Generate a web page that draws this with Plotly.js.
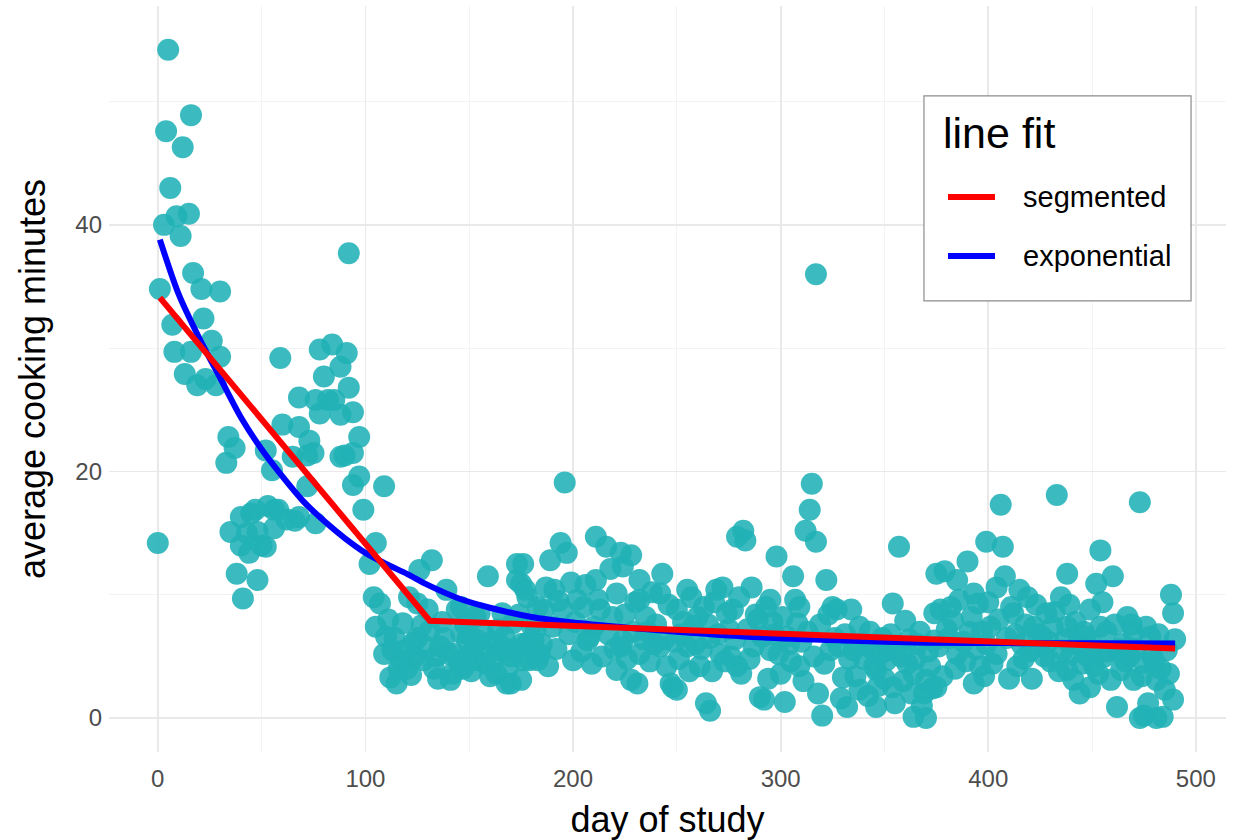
<!DOCTYPE html>
<html>
<head>
<meta charset="utf-8">
<script src="https://cdn.plot.ly/plotly-3.0.1.min.js"></script>
<style>
  html, body { margin: 0; padding: 0; background: #ffffff; }
  #chart { width: 1233px; height: 840px; }
</style>
</head>
<body>
<div id="chart"></div>
<script>
// ---- observed data: day of study and average cooking minutes ----
const dayOfStudy = [
  0,1,3,4,5,6,7,8,9,11,12,13,15,16,16,17,19,21,22,23,26,28,30,30,
  33,34,35,37,38,40,40,41,43,44,45,47,48,48,50,52,52,53,55,56,56,58,59,60,
  62,65,66,68,68,68,72,72,73,75,76,76,78,78,80,82,84,85,88,88,88,90,91,92,92,94,94,94,97,97,99,
  102,104,105,105,107,109,109,110,112,113,115,117,118,120,121,123,124,125,125,126,128,130,131,132,133,134,136,138,139,
  141,142,143,144,146,146,147,149,149,150,152,154,154,155,156,158,159,161,162,163,165,166,166,167,168,170,170,171,
  173,173,175,175,175,176,176,177,178,178,179,180,181,183,183,184,186,187,189,191,194,195,196,197,
  200,202,207,208,211,211,213,216,218,221,221,223,223,224,224,228,228,231,232,232,232,236,239,
  242,242,243,245,247,248,250,250,252,255,255,258,261,263,264,266,266,269,271,272,274,276,277,279,279,
  281,282,283,284,286,287,289,290,292,293,295,295,297,298,300,302,304,306,308,309,309,
  312,313,314,315,317,317,318,320,322,324,325,326,327,330,332,335,338,338,341,345,346,346,349,
  351,352,354,354,357,358,360,361,364,364,366,369,370,370,372,374,374,375,375,377,379,381,382,383,385,385,
  390,391,393,393,395,396,399,399,401,404,404,406,407,408,409,411,412,414,416,419,
  422,424,425,427,428,429,431,433,435,436,438,438,438,441,443,444,446,448,449,449,
  451,452,454,454,456,457,459,460,462,464,465,467,468,470,470,473,473,475,475,477,478,479,
  481,481,483,484,485,486,488,489,489
];
const cookingMinutes = [
  14.2,34.8,40.0,47.6,54.2,43.0,31.9,29.7,40.7,39.1,46.3,27.9,40.9,48.9,29.7,36.1,27.0,34.8,32.4,27.5,30.6,27.0,34.6,29.3,
  20.7,22.8,15.1,21.9,11.7,16.3,14.0,9.7,15.0,13.4,16.6,16.9,11.2,15.1,14.0,13.9,21.7,17.2,20.1,16.9,15.4,16.9,29.2,23.8,
  16.1,21.2,16.0,26.0,23.6,16.3,18.8,21.3,22.5,21.5,25.8,15.8,29.9,24.7,27.7,25.8,30.3,25.8,28.5,24.6,21.2,21.3,29.6,37.7,26.8,24.8,21.5,18.9,22.8,19.6,16.9,
  12.5,9.8,14.2,7.4,9.3,18.8,5.2,6.6,3.3,5.5,2.8,4.7,7.7,4.0,9.8,6.1,5.0,9.3,6.5,12.0,4.7,8.8,7.1,12.8,4.0,5.0,5.8,6.5,10.4,
  3.1,3.6,5.2,8.8,6.9,9.0,4.0,5.0,6.3,6.8,5.5,6.3,4.7,8.5,5.8,4.4,11.5,6.2,4.8,3.6,5.5,8.5,5.8,6.6,2.8,2.8,5.0,7.7,
  12.5,11.2,10.9,3.1,6.0,4.7,12.5,10.4,9.8,6.1,4.7,7.5,6.3,9.0,4.7,5.2,8.8,10.6,12.8,10.4,14.2,8.8,19.1,13.4,
  4.7,9.6,6.3,6.6,14.7,11.2,8.8,13.9,12.1,10.1,3.9,5.8,13.4,6.3,12.3,13.2,3.1,2.8,11.2,9.6,5.2,7.0,6.0,
  10.1,5.8,11.7,4.2,2.8,2.5,8.8,2.3,6.8,10.4,5.8,7.5,4.2,9.0,1.2,0.6,6.5,10.4,5.2,10.6,8.5,5.0,8.8,14.7,4.2,
  3.6,15.2,14.4,7.2,10.6,5.8,8.0,1.7,1.5,9.0,9.6,5.5,6.8,13.1,3.6,1.3,6.0,11.5,7.7,9.0,4.2,
  15.2,7.0,16.9,19.0,14.3,36.0,2.0,0.2,11.2,5.5,9.0,6.5,8.8,3.3,0.9,5.5,7.4,2.3,6.0,4.2,0.9,3.9,6.5,
  4.7,5.5,9.3,2.5,13.9,5.0,7.9,4.4,0.1,3.6,6.0,2.0,0.0,3.1,4.2,8.5,6.3,11.7,2.5,8.8,11.9,6.5,9.0,7.9,11.2,5.2,
  12.7,7.0,10.1,2.8,9.3,4.2,14.3,6.0,7.4,10.6,5.2,17.3,13.9,11.5,6.5,9.0,8.5,4.2,6.0,9.8,
  7.4,6.8,5.8,5.0,8.5,6.2,7.4,18.1,9.8,5.5,11.7,7.4,3.9,3.1,6.0,2.0,7.0,5.0,8.8,2.5,
  4.2,10.9,13.6,7.4,5.0,7.0,3.1,11.5,0.9,3.9,6.0,8.2,5.0,6.9,3.1,17.5,0.0,4.5,0.2,1.2,6.6,5.0,
  3.1,0.0,4.0,0.1,2.3,5.5,10.0,8.5,1.5
];
// points inside the dense low band (overlapping dots)
const dayOfStudyBand = [
  111,114,116,119,122,127,129,135,137,140,145,148,151,153,157,160,164,169,172,174,
  182,185,188,190,192,193,198,199,201,204,205,206,209,210,212,214,217,219,220,225,226,229,230,
  234,235,237,238,240,244,246,249,251,253,256,257,259,260,262,265,267,268,270,273,275,278,280,
  285,288,291,294,296,299,301,303,305,307,310,311,316,319,321,323,328,329,331,333,334,336,337,
  340,342,343,344,347,348,350,353,355,356,359,362,363,365,367,368,371,373,376,378,380,
  384,386,388,389,392,394,397,398,400,402,405,410,413,415,417,418,420,421,423,426,
  430,432,434,437,439,440,442,445,447,450,453,455,458,461,463,466,469,471,474,476,480,482,487,490
];
const cookingMinutesBand = [
  8.0,6.5,4.0,5.5,3.5,7.5,5.8,3.2,7.8,5.2,4.5,7.6,3.8,8.2,6.8,3.4,7.2,4.2,5.6,8.4,
  7.2,6.0,4.2,7.4,5.6,9.5,6.8,11.0,7.8,5.4,9.0,10.8,4.4,7.4,9.6,5.0,6.8,8.2,5.6,8.4,4.8,7.0,9.4,
  6.4,8.2,4.6,10.2,7.6,6.4,9.2,6.2,4.8,7.8,3.8,9.8,6.0,8.2,5.6,7.6,3.8,9.4,6.8,4.6,7.2,6.4,9.8,
  4.8,8.4,6.6,3.2,7.8,5.2,8.2,6.6,4.6,9.6,6.2,3.0,5.0,7.6,4.4,8.4,5.8,1.6,6.8,4.8,8.8,3.4,6.0,
  4.8,1.8,7.0,5.6,2.6,5.2,3.2,6.8,1.2,5.8,3.0,6.4,2.0,4.8,7.0,1.0,5.4,2.4,5.8,3.4,7.2,
  4.0,9.6,6.2,4.6,8.2,5.6,7.0,3.4,9.4,4.4,8.0,3.2,6.8,10.4,4.8,7.6,5.4,3.2,9.2,6.6,
  4.6,8.6,3.8,6.4,9.2,5.2,7.8,4.4,6.6,5.8,3.6,9.4,5.4,7.6,5.6,4.6,7.6,5.6,3.4,7.4,4.6,6.8,3.6,6.4
];

// ---- fitted lines ----
const segmentedDays = [1, 131, 490];
const segmentedMinutes = [34.1, 7.9, 5.65];
const exponentialDays = [1,10,20,30,40,50,60,70,80,90,100,110,120,130,145,160,180,200,225,250,290,330,370,410,450,490];
const exponentialMinutes = [38.8,34.4,30.8,27.6,24.4,21.8,19.6,17.6,16.0,14.6,13.4,12.5,11.7,10.8,9.7,8.95,8.2,7.75,7.35,7.0,6.55,6.3,6.12,6.08,6.06,6.05];

// ---- labels ----
const xTitle = 'day of study';
const yTitle = 'average cooking minutes';
const legendTitle = 'line fit';
const seriesNames = ['segmented', 'exponential'];
const seriesColors = ['#ff0000', '#0000ff'];

const FONT = 'Liberation Sans, Arial, Helvetica, sans-serif';

const traces = [
  {
    type: 'scatter', mode: 'markers',
    x: dayOfStudy.concat(dayOfStudyBand), y: cookingMinutes.concat(cookingMinutesBand),
    marker: { size: 22, color: 'rgba(32,178,182,0.88)', line: { width: 0 } },
    showlegend: false, hoverinfo: 'x+y'
  },
  {
    type: 'scatter', mode: 'lines',
    x: exponentialDays, y: exponentialMinutes,
    line: { color: seriesColors[1], width: 6, shape: 'spline', smoothing: 0.8 },
    name: seriesNames[1], showlegend: false
  },
  {
    type: 'scatter', mode: 'lines',
    x: segmentedDays, y: segmentedMinutes,
    line: { color: seriesColors[0], width: 6 },
    name: seriesNames[0], showlegend: false
  }
];

// legend drawn as a ggplot-style key box (paper coordinates)
const box = { x0: 0.7296, x1: 0.9687, y0: 0.6046, y1: 0.8794 };
const keyY = [0.744, 0.6649];
const shapes = [
  { type: 'rect', xref: 'paper', yref: 'paper', x0: box.x0, x1: box.x1, y0: box.y0, y1: box.y1,
    line: { color: '#8c8c8c', width: 1.2 }, fillcolor: '#ffffff', layer: 'above' }
];
const annotations = [
  { xref: 'paper', yref: 'paper', x: 0.7448, y: 0.8298, xanchor: 'left', yanchor: 'middle',
    text: legendTitle, showarrow: false, font: { size: 43, color: '#000000', family: FONT } }
];
seriesNames.forEach((nm, i) => {
  shapes.push({ type: 'line', xref: 'paper', yref: 'paper', x0: 0.7511, x1: 0.7932, y0: keyY[i], y1: keyY[i],
    line: { color: seriesColors[i], width: 6 }, layer: 'above' });
  annotations.push({ xref: 'paper', yref: 'paper', x: 0.8165, y: keyY[i], xanchor: 'left', yanchor: 'middle',
    text: nm, showarrow: false, font: { size: 29, color: '#000000', family: FONT } });
});

const layout = {
  width: 1233, height: 840,
  paper_bgcolor: '#ffffff', plot_bgcolor: '#ffffff',
  font: { family: FONT, color: '#4d4d4d' },
  margin: { l: 109, r: 7, t: 6, b: 88 },
  showlegend: false,
  xaxis: {
    range: [-23.5, 514.5], tick0: 0, dtick: 100,
    showgrid: true, gridcolor: '#e9e9e9', gridwidth: 1.8,
    minor: { dtick: 50, showgrid: true, gridcolor: '#f3f3f3', gridwidth: 1 },
    zeroline: false, showline: false, ticks: '',
    tickfont: { size: 24, color: '#4d4d4d', family: FONT },
    ticklabelstandoff: 10,
    title: { text: xTitle, font: { size: 36, color: '#000000', family: FONT }, standoff: 18 },
    automargin: false
  },
  yaxis: {
    range: [-2.75, 57.75], tick0: 0, dtick: 20,
    showgrid: true, gridcolor: '#e9e9e9', gridwidth: 1.8,
    minor: { dtick: 10, showgrid: true, gridcolor: '#f3f3f3', gridwidth: 1 },
    zeroline: false, showline: false, ticks: '',
    tickfont: { size: 24, color: '#4d4d4d', family: FONT },
    ticklabelstandoff: 6,
    title: { text: yTitle, font: { size: 36, color: '#000000', family: FONT }, standoff: 18 },
    automargin: false
  },
  shapes: shapes,
  annotations: annotations
};

Plotly.newPlot('chart', traces, layout, { displayModeBar: false, staticPlot: true });
</script>
</body>
</html>
